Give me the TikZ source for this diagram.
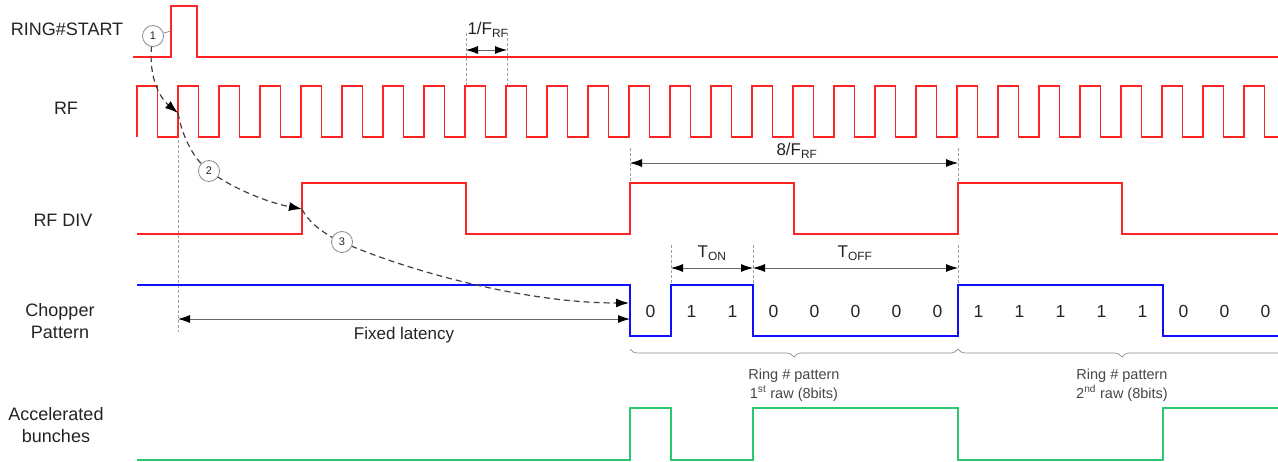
\documentclass[tikz,border=0pt]{standalone}
\usepackage{fontspec}
\setmainfont{Liberation Sans}
\usetikzlibrary{arrows.meta,decorations.pathreplacing,calc}
\definecolor{sigred}{RGB}{255,35,35}
\definecolor{sigblue}{RGB}{15,15,250}
\definecolor{siggreen}{RGB}{45,200,110}
\definecolor{txt}{RGB}{35,35,35}
\definecolor{guidec}{RGB}{160,160,160}
\begin{document}
\begin{tikzpicture}[x=1pt,y=-1pt,
  sig/.style={line width=1.6pt, line join=miter},
  lbl/.style={font=\fontsize{18}{22}\selectfont, text=txt, align=center, inner sep=0pt},
  bit/.style={font=\fontsize{17.5}{20}\selectfont, text=txt, inner sep=0pt},
  ann/.style={font=\fontsize{17}{19}\selectfont, text=txt, inner sep=0pt},
  small/.style={font=\fontsize{14.5}{18.5}\selectfont, text=black!72, align=center, inner sep=0pt},
  guide/.style={draw=guidec, dash pattern=on 3pt off 2pt, line width=0.7pt},
  dimarrow/.style={draw=black!60, line width=0.8pt, {Latex[length=12pt,width=8pt,color=black]}-{Latex[length=12pt,width=8pt,color=black]}},
  seq/.style={draw=black!75, dash pattern=on 6pt off 4pt, line width=1.2pt},
  seqtip/.style={-{Latex[length=13pt,width=9pt,color=black]}},
  num/.style={circle, draw=black!45, line width=0.8pt, minimum size=21pt, inner sep=0pt, fill=white, font=\fontsize{11}{13}\selectfont, text=txt},
  brc/.style={draw=black!45, line width=0.7pt, decorate, decoration={brace,mirror,amplitude=8pt}}
]
\clip (0,0) rectangle (1278,462);
\path[use as bounding box] (0,0) rectangle (1278,462);

% left labels
\node[lbl] (lring) at (67,29) {RING\#START};
\node[lbl] (lrf) at (66,108) {RF};
\node[lbl] (lrfdiv) at (63,220) {RF DIV};
\node[lbl] (lchop) at (60,321) {Chopper\\Pattern};
\node[lbl] (lacc) at (56,425) {Accelerated\\bunches};

% guides
\draw[guide] (178,140) -- (178,332);
\draw[guide] (466,33) -- (466,86);
\draw[guide] (507,33) -- (507,86);
\draw[guide] (630,148) -- (630,183);
\draw[guide] (958,148) -- (958,183);
\draw[guide] (671,245) -- (671,285);
\draw[guide] (753,245) -- (753,285);
\draw[guide] (958,245) -- (958,285);

% RING#START
\draw[sig,sigred] (133,57) -- (171,57) -- (171,6) -- (197,6) -- (197,57) -- (1280,57);

% RF
\draw[sig,sigred] (137,137) \foreach \k in {0,...,26}{ -- ({137+41*\k},86) -- ({157.5+41*\k},86) -- ({157.5+41*\k},137) -- ({178+41*\k},137) } -- (1244,86) -- (1264.5,86) -- (1264.5,137) -- (1280,137);

% RF DIV
\draw[sig,sigred] (137,234) -- (302,234) -- (302,183) -- (466,183) -- (466,234) -- (630,234) -- (630,183) -- (794,183) -- (794,234) -- (958,234) -- (958,183) -- (1122,183) -- (1122,234) -- (1280,234);

% Chopper
\draw[sig,sigblue] (137,285) -- (630,285) -- (630,336) -- (671,336) -- (671,285) -- (753,285) -- (753,336) -- (958,336) -- (958,285) -- (1163,285) -- (1163,336) -- (1280,336);

% Accelerated bunches
\draw[sig,siggreen] (137,460) -- (630,460) -- (630,408) -- (671,408) -- (671,460) -- (753,460) -- (753,408) -- (958,408) -- (958,460) -- (1163,460) -- (1163,408) -- (1280,408);

% bits
\foreach \b [count=\i from 0] in {0,1,1,0,0,0,0,0,1,1,1,1,1,0,0,0}{
  \node[bit] (bit\i) at ({650.5+41*\i},311) {\b};
}

% dimension arrows
\coordinate (fa) at (466,50); \coordinate (fb) at (507,50);
\draw[dimarrow] (fa) -- (fb);
\node[ann] (tf1) at (488,30) {1/F\textsubscript{RF}};

\coordinate (ea) at (630,163); \coordinate (eb) at (958,163);
\draw[dimarrow] (ea) -- (eb);
\node[ann] (tf8) at (797,151) {8/F\textsubscript{RF}};

\coordinate (ta) at (671,268); \coordinate (tb) at (753,268); \coordinate (tc) at (958,268);
\draw[dimarrow] (ta) -- (tb);
\draw[dimarrow] (tb) -- (tc);
\node[ann] (tton) at (712,253) {T\textsubscript{ON}};
\node[ann] (ttoff) at (855,253) {T\textsubscript{OFF}};

\coordinate (la) at (178,319); \coordinate (lb) at (630,319);
\draw[dimarrow] (la) -- (lb);
\node[ann] (tlat) at (404,335) {Fixed latency};

% braces
\coordinate (ba) at (630,349); \coordinate (bb) at (958,349); \coordinate (bc) at (1286,349);
\draw[brc] (ba) -- (bb);
\draw[brc] (bb) -- (bc);
\node[small] (r1) at (794,385) {Ring \# pattern\\1\textsuperscript{st} raw (8bits)};
\node[small] (r2) at (1122,385) {Ring \# pattern\\2\textsuperscript{nd} raw (8bits)};

% sequence dashed curves
\coordinate (c1) at (153,36);
\coordinate (c2) at (209,171);
\coordinate (c3) at (342,242);
\coordinate (e1) at (178,113);
\coordinate (e2) at (302,209);
\coordinate (e3) at (629,303);
\draw[seq,seqtip] (c1) .. controls (146,75) and (160,98) .. (e1);
\draw[seq] (e1) .. controls (183,140) and (195,160) .. (c2);
\draw[seq,seqtip] (c2) .. controls (235,190) and (270,203) .. (e2);
\draw[seq] (e2) .. controls (308,222) and (325,235) .. (c3);
\draw[seq,seqtip] (c3) .. controls (400,268) and (520,303) .. (e3);

\node[num] (n1) at (c1) {1};
\node[num] (n2) at (c2) {2};
\node[num] (n3) at (c3) {3};
\coordinate (p1) at (171,31);
\draw[draw=black!50, line width=0.7pt] (n1) -- (p1);
\end{tikzpicture}
\end{document}
